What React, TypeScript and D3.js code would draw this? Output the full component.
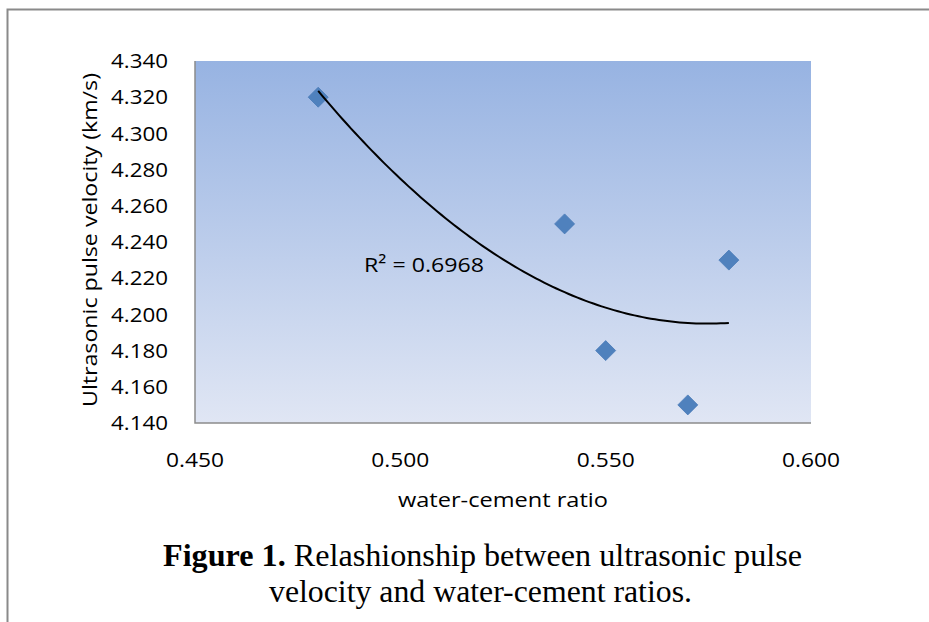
import { useMemo } from 'react';
import * as d3 from 'd3';

const WIDTH = 929;
const HEIGHT = 622;
const PLOT = { left: 195, right: 811, top: 61, bottom: 423 };

// data
const ratios = [0.48, 0.54, 0.55, 0.57, 0.58];
const velocities = [4.32, 4.25, 4.18, 4.15, 4.23];
const xTicks = [0.45, 0.5, 0.55, 0.6];
const yTicks = [4.14, 4.16, 4.18, 4.2, 4.22, 4.24, 4.26, 4.28, 4.3, 4.32, 4.34];
const rSquaredLabel = 'R² = 0.6968';
const captionLine1 = ['Figure 1.', ' Relashionship between ultrasonic pulse'];
const captionLine2 = 'velocity and water-cement ratios.';

const font = '"Open Sans", Lato, sans-serif';
const serif = '"Liberation Serif", "Times New Roman", serif';

// least squares fit of a 2nd order polynomial, like the spreadsheet trendline
function fitQuadratic(xs: number[], ys: number[]) {
  const m = d3.mean(xs) || 0;
  const u = xs.map(x => x - m);
  const s = (p: number) => d3.sum(u, v => Math.pow(v, p));
  const t = (p: number) => d3.sum(u, (v, i) => Math.pow(v, p) * ys[i]);
  const A = [
    [s(0), s(1), s(2)],
    [s(1), s(2), s(3)],
    [s(2), s(3), s(4)],
  ];
  const b = [t(0), t(1), t(2)];
  // gaussian elimination
  for (let i = 0; i < 3; i++) {
    for (let j = i + 1; j < 3; j++) {
      const f = A[j][i] / A[i][i];
      for (let k = i; k < 3; k++) A[j][k] -= f * A[i][k];
      b[j] -= f * b[i];
    }
  }
  const c = [0, 0, 0];
  for (let i = 2; i >= 0; i--) {
    let acc = b[i];
    for (let k = i + 1; k < 3; k++) acc -= A[i][k] * c[k];
    c[i] = acc / A[i][i];
  }
  return (x: number) => c[0] + c[1] * (x - m) + c[2] * (x - m) * (x - m);
}

const App = () => {
  const xScale = d3.scaleLinear().domain([0.45, 0.6]).range([PLOT.left, PLOT.right]);
  const yScale = d3.scaleLinear().domain([4.14, 4.34]).range([PLOT.bottom, PLOT.top]);

  const trendPath = useMemo(() => {
    const f = fitQuadratic(ratios, velocities);
    const [lo, hi] = d3.extent(ratios) as [number, number];
    const steps = d3.range(0, 101).map(i => lo + ((hi - lo) * i) / 100);
    return d3
      .line<number>()
      .x(x => xScale(x))
      .y(x => yScale(f(x)))(steps);
  }, []);

  const diamond = (cx: number, cy: number, r: number) =>
    `M${cx},${cy - r}L${cx + r},${cy}L${cx},${cy + r}L${cx - r},${cy}Z`;

  return (
    <svg width={WIDTH} height={HEIGHT} style={{ position: 'absolute', left: 0, top: 0 }}>
      <defs>
        <linearGradient id="plotFill" x1="0" x2="0" y1="0" y2="1">
          <stop offset="0" stopColor="#97b3e2" />
          <stop offset="1" stopColor="#e0e6f4" />
        </linearGradient>
      </defs>
      <rect x={0} y={0} width={WIDTH} height={HEIGHT} fill="#fff" />
      {/* page frame */}
      <path d={`M7.5,${HEIGHT}V9.5H${WIDTH}`} fill="none" stroke="#8a8a8a" strokeWidth={2} />

      <rect
        x={PLOT.left}
        y={PLOT.top}
        width={PLOT.right - PLOT.left}
        height={PLOT.bottom - PLOT.top}
        fill="url(#plotFill)"
      />
      <path
        d={`M${PLOT.left},${PLOT.top}V${PLOT.bottom}H${PLOT.right}`}
        fill="none"
        stroke="#8c8c8c"
        strokeWidth={1.5}
      />

      {yTicks.map(t => (
        <text
          key={t}
          x={168}
          y={yScale(t)}
          dy="0.36em"
          textAnchor="end"
          fontFamily={font}
          fontSize={20}
          fill="#000"
          textLength={57}
          lengthAdjust="spacingAndGlyphs"
        >
          {t.toFixed(3)}
        </text>
      ))}
      {xTicks.map(t => (
        <text
          key={t}
          x={xScale(t)}
          y={467}
          textAnchor="middle"
          fontFamily={font}
          fontSize={20}
          fill="#000"
          textLength={58}
          lengthAdjust="spacingAndGlyphs"
        >
          {t.toFixed(3)}
        </text>
      ))}

      <text
        transform={`translate(97,${(PLOT.top + PLOT.bottom) / 2 - 2}) rotate(-90)`}
        textAnchor="middle"
        fontFamily={font}
        fontSize={20}
        fill="#000"
        textLength={334}
        lengthAdjust="spacingAndGlyphs"
      >
        Ultrasonic pulse velocity (km/s)
      </text>
      <text
        x={503}
        y={507}
        textAnchor="middle"
        fontFamily={font}
        fontSize={20}
        fill="#000"
        textLength={210}
        lengthAdjust="spacingAndGlyphs"
      >
        water-cement ratio
      </text>

      {ratios.map((r, i) => (
        <path
          key={i}
          d={diamond(xScale(r), yScale(velocities[i]), 10)}
          fill="#4f81bd"
          stroke="#4a7bb7"
          strokeWidth={0.8}
        />
      ))}

      <path d={trendPath || ''} fill="none" stroke="#000" strokeWidth={2} />

      <text
        x={364}
        y={272}
        fontFamily={font}
        fontSize={20}
        fill="#000"
        textLength={120}
        lengthAdjust="spacingAndGlyphs"
      >
        {rSquaredLabel}
      </text>

      <text
        x={163}
        y={566}
        fontFamily={serif}
        fontSize={31}
        fill="#000"
        textLength={639}
        lengthAdjust="spacingAndGlyphs"
      >
        <tspan fontWeight="bold">{captionLine1[0]}</tspan>
        <tspan>{captionLine1[1]}</tspan>
      </text>
      <text
        x={269}
        y={602}
        fontFamily={serif}
        fontSize={31}
        fill="#000"
        textLength={423}
        lengthAdjust="spacingAndGlyphs"
      >
        {captionLine2}
      </text>
    </svg>
  );
};

export default App;
